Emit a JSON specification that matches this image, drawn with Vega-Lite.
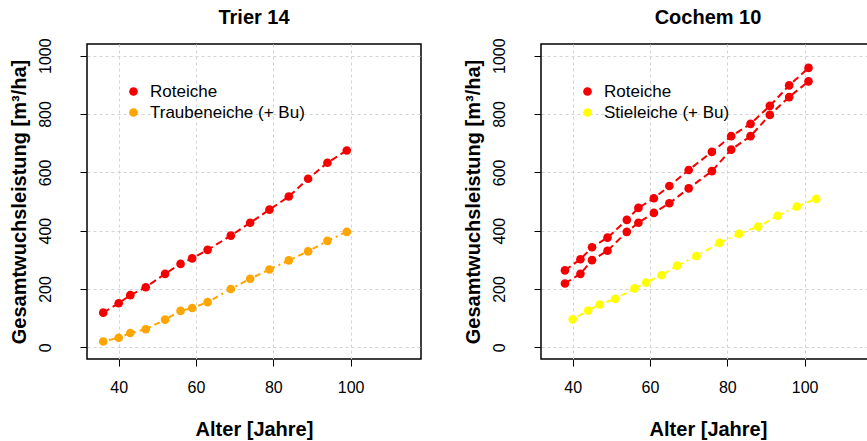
{
  "$schema": "https://vega.github.io/schema/vega-lite/v6.json",
  "padding": {"left": 8, "top": 7, "right": -7, "bottom": 0},
  "spacing": 40,
  "datasets": {
    "trier": [
      {"age": 36, "vol": 119, "species": "Roteiche", "series": "R"},
      {"age": 40, "vol": 151, "species": "Roteiche", "series": "R"},
      {"age": 43, "vol": 179, "species": "Roteiche", "series": "R"},
      {"age": 47, "vol": 206, "species": "Roteiche", "series": "R"},
      {"age": 52, "vol": 252, "species": "Roteiche", "series": "R"},
      {"age": 56, "vol": 286, "species": "Roteiche", "series": "R"},
      {"age": 59, "vol": 305, "species": "Roteiche", "series": "R"},
      {"age": 63, "vol": 334, "species": "Roteiche", "series": "R"},
      {"age": 69, "vol": 383, "species": "Roteiche", "series": "R"},
      {"age": 74, "vol": 427, "species": "Roteiche", "series": "R"},
      {"age": 79, "vol": 472, "species": "Roteiche", "series": "R"},
      {"age": 84, "vol": 517, "species": "Roteiche", "series": "R"},
      {"age": 89, "vol": 578, "species": "Roteiche", "series": "R"},
      {"age": 94, "vol": 633, "species": "Roteiche", "series": "R"},
      {"age": 99, "vol": 675, "species": "Roteiche", "series": "R"},
      {"age": 36, "vol": 20, "species": "Traubeneiche (+ Bu)", "series": "T"},
      {"age": 40, "vol": 33, "species": "Traubeneiche (+ Bu)", "series": "T"},
      {"age": 43, "vol": 49, "species": "Traubeneiche (+ Bu)", "series": "T"},
      {"age": 47, "vol": 62, "species": "Traubeneiche (+ Bu)", "series": "T"},
      {"age": 52, "vol": 95, "species": "Traubeneiche (+ Bu)", "series": "T"},
      {"age": 56, "vol": 125, "species": "Traubeneiche (+ Bu)", "series": "T"},
      {"age": 59, "vol": 135, "species": "Traubeneiche (+ Bu)", "series": "T"},
      {"age": 63, "vol": 155, "species": "Traubeneiche (+ Bu)", "series": "T"},
      {"age": 69, "vol": 200, "species": "Traubeneiche (+ Bu)", "series": "T"},
      {"age": 74, "vol": 235, "species": "Traubeneiche (+ Bu)", "series": "T"},
      {"age": 79, "vol": 267, "species": "Traubeneiche (+ Bu)", "series": "T"},
      {"age": 84, "vol": 298, "species": "Traubeneiche (+ Bu)", "series": "T"},
      {"age": 89, "vol": 329, "species": "Traubeneiche (+ Bu)", "series": "T"},
      {"age": 94, "vol": 365, "species": "Traubeneiche (+ Bu)", "series": "T"},
      {"age": 99, "vol": 396, "species": "Traubeneiche (+ Bu)", "series": "T"}
    ],
    "cochem": [
      {"age": 38, "vol": 264, "species": "Roteiche", "series": "A"},
      {"age": 42, "vol": 302, "species": "Roteiche", "series": "A"},
      {"age": 45, "vol": 343, "species": "Roteiche", "series": "A"},
      {"age": 49, "vol": 376, "species": "Roteiche", "series": "A"},
      {"age": 54, "vol": 437, "species": "Roteiche", "series": "A"},
      {"age": 57, "vol": 478, "species": "Roteiche", "series": "A"},
      {"age": 61, "vol": 511, "species": "Roteiche", "series": "A"},
      {"age": 65, "vol": 553, "species": "Roteiche", "series": "A"},
      {"age": 70, "vol": 608, "species": "Roteiche", "series": "A"},
      {"age": 76, "vol": 670, "species": "Roteiche", "series": "A"},
      {"age": 81, "vol": 724, "species": "Roteiche", "series": "A"},
      {"age": 86, "vol": 766, "species": "Roteiche", "series": "A"},
      {"age": 91, "vol": 828, "species": "Roteiche", "series": "A"},
      {"age": 96, "vol": 898, "species": "Roteiche", "series": "A"},
      {"age": 101, "vol": 958, "species": "Roteiche", "series": "A"},
      {"age": 38, "vol": 219, "species": "Roteiche", "series": "B"},
      {"age": 42, "vol": 252, "species": "Roteiche", "series": "B"},
      {"age": 45, "vol": 299, "species": "Roteiche", "series": "B"},
      {"age": 49, "vol": 331, "species": "Roteiche", "series": "B"},
      {"age": 54, "vol": 396, "species": "Roteiche", "series": "B"},
      {"age": 57, "vol": 427, "species": "Roteiche", "series": "B"},
      {"age": 61, "vol": 461, "species": "Roteiche", "series": "B"},
      {"age": 65, "vol": 494, "species": "Roteiche", "series": "B"},
      {"age": 70, "vol": 545, "species": "Roteiche", "series": "B"},
      {"age": 76, "vol": 604, "species": "Roteiche", "series": "B"},
      {"age": 81, "vol": 678, "species": "Roteiche", "series": "B"},
      {"age": 86, "vol": 724, "species": "Roteiche", "series": "B"},
      {"age": 91, "vol": 797, "species": "Roteiche", "series": "B"},
      {"age": 96, "vol": 858, "species": "Roteiche", "series": "B"},
      {"age": 101, "vol": 912, "species": "Roteiche", "series": "B"},
      {"age": 40, "vol": 96, "species": "Stieleiche (+ Bu)", "series": "S"},
      {"age": 44, "vol": 126, "species": "Stieleiche (+ Bu)", "series": "S"},
      {"age": 47, "vol": 147, "species": "Stieleiche (+ Bu)", "series": "S"},
      {"age": 51, "vol": 166, "species": "Stieleiche (+ Bu)", "series": "S"},
      {"age": 56, "vol": 202, "species": "Stieleiche (+ Bu)", "series": "S"},
      {"age": 59, "vol": 222, "species": "Stieleiche (+ Bu)", "series": "S"},
      {"age": 63, "vol": 247, "species": "Stieleiche (+ Bu)", "series": "S"},
      {"age": 67, "vol": 280, "species": "Stieleiche (+ Bu)", "series": "S"},
      {"age": 72, "vol": 313, "species": "Stieleiche (+ Bu)", "series": "S"},
      {"age": 78, "vol": 358, "species": "Stieleiche (+ Bu)", "series": "S"},
      {"age": 83, "vol": 389, "species": "Stieleiche (+ Bu)", "series": "S"},
      {"age": 88, "vol": 414, "species": "Stieleiche (+ Bu)", "series": "S"},
      {"age": 93, "vol": 451, "species": "Stieleiche (+ Bu)", "series": "S"},
      {"age": 98, "vol": 483, "species": "Stieleiche (+ Bu)", "series": "S"},
      {"age": 103, "vol": 509, "species": "Stieleiche (+ Bu)", "series": "S"}
    ]
  },
  "hconcat": [
    {
      "width": 334,
      "height": 315,
      "title": {"text": "Trier 14"},
      "data": {"name": "trier"},
      "encoding": {
        "x": {"field": "age", "type": "quantitative", "title": "Alter [Jahre]",
              "scale": {"domain": [31.8, 118.2], "nice": false, "zero": false},
              "axis": {"values": [40, 60, 80, 100]}},
        "y": {"field": "vol", "type": "quantitative", "title": "Gesamtwuchsleistung [m³/ha]",
              "scale": {"domain": [-40, 1040], "nice": false, "zero": false},
              "axis": {"values": [0, 200, 400, 600, 800, 1000], "format": "d"}}
      },
      "layer": [
        {
          "transform": [{"filter": "datum.species === 'Roteiche'"}],
          "mark": {"type": "line", "strokeWidth": 2, "color": "#F50000", "strokeDash": [7, 4]},
          "encoding": {"detail": {"field": "series"}}
        },
        {
          "transform": [{"filter": "datum.species !== 'Roteiche'"}],
          "mark": {"type": "line", "strokeWidth": 2, "color": "#FFA500", "strokeDash": [2, 4, 6, 4]},
          "encoding": {"detail": {"field": "series"}}
        },
        {
          "mark": {"type": "circle", "size": 75, "opacity": 1},
          "encoding": {
            "color": {"field": "species", "type": "nominal",
                      "scale": {"domain": ["Roteiche", "Traubeneiche (+ Bu)"], "range": ["#F50000", "#FFA500"]},
                      "legend": {"orient": "none", "legendX": 38, "legendY": 39}}
          }
        }
      ]
    },
    {
      "width": 334,
      "height": 315,
      "title": {"text": "Cochem 10"},
      "data": {"name": "cochem"},
      "encoding": {
        "x": {"field": "age", "type": "quantitative", "title": "Alter [Jahre]",
              "scale": {"domain": [31.8, 118.2], "nice": false, "zero": false},
              "axis": {"values": [40, 60, 80, 100]}},
        "y": {"field": "vol", "type": "quantitative", "title": "Gesamtwuchsleistung [m³/ha]",
              "scale": {"domain": [-40, 1040], "nice": false, "zero": false},
              "axis": {"values": [0, 200, 400, 600, 800, 1000], "format": "d"}}
      },
      "layer": [
        {
          "transform": [{"filter": "datum.species === 'Roteiche'"}],
          "mark": {"type": "line", "strokeWidth": 2, "color": "#F50000", "strokeDash": [7, 4]},
          "encoding": {"detail": {"field": "series"}}
        },
        {
          "transform": [{"filter": "datum.species !== 'Roteiche'"}],
          "mark": {"type": "line", "strokeWidth": 2, "color": "#FFFF00", "strokeDash": [2, 4, 6, 4]},
          "encoding": {"detail": {"field": "series"}}
        },
        {
          "mark": {"type": "circle", "size": 75, "opacity": 1},
          "encoding": {
            "color": {"field": "species", "type": "nominal",
                      "scale": {"domain": ["Roteiche", "Stieleiche (+ Bu)"], "range": ["#F50000", "#FFFF00"]},
                      "legend": {"orient": "none", "legendX": 38, "legendY": 39}}
          }
        }
      ]
    }
  ],
  "resolve": {
    "scale": {"x": "independent", "y": "independent", "color": "independent"},
    "legend": {"color": "independent"}
  },
  "config": {
    "font": "Liberation Sans",
    "background": "#FFFFFF",
    "view": {"stroke": "#000000", "strokeWidth": 1.5},
    "title": {"fontSize": 20, "fontWeight": "bold", "color": "#000000", "baseline": "alphabetic", "offset": 10, "anchor": "middle", "frame": "group"},
    "axis": {
      "domain": false,
      "ticks": true,
      "tickColor": "#000000",
      "tickSize": 7,
      "tickWidth": 1,
      "labelFontSize": 16,
      "labelColor": "#000000",
      "labelFont": "Liberation Sans",
      "titleFont": "Liberation Sans",
      "titleFontSize": 20,
      "titleFontWeight": "bold",
      "titleColor": "#000000",
      "grid": true,
      "gridColor": "#D3D3D3",
      "gridDash": [3, 3],
      "gridWidth": 1
    },
    "axisX": {"labelPadding": 13, "titlePadding": 24, "labelBaseline": "top"},
    "axisY": {"labelAngle": -90, "labelAlign": "center", "labelBaseline": "alphabetic", "labelPadding": 30, "titlePadding": 8},
    "legend": {
      "title": null,
      "labelFontSize": 17,
      "labelFont": "Liberation Sans",
      "labelColor": "#000000",
      "symbolType": "circle",
      "symbolSize": 75,
      "symbolStrokeWidth": 0,
      "symbolOpacity": 1,
      "labelOffset": 8,
      "rowPadding": 3,
      "padding": 0
    }
  }
}
